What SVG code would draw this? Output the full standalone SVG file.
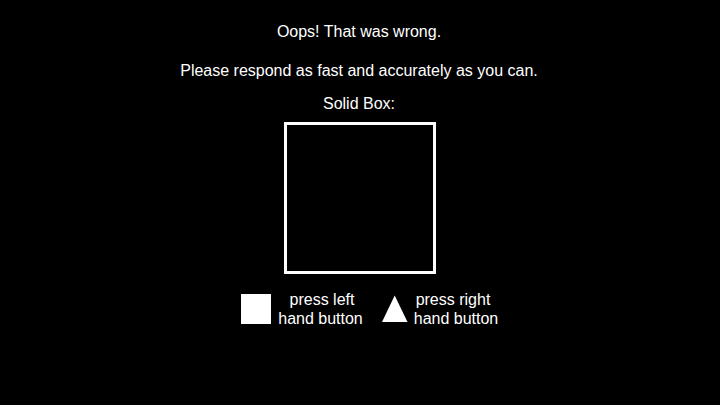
<svg xmlns="http://www.w3.org/2000/svg" width="720" height="405" viewBox="0 0 720 405">
<style>
text{font-family:"Liberation Sans",Arial,sans-serif;font-size:16px;fill:#fff;text-anchor:middle}
</style>
<rect x="0" y="0" width="720" height="405" fill="#000"/>
<g id="header">
<text x="359" y="37">Oops! That was wrong.</text>
<text x="359" y="76">Please respond as fast and accurately as you can.</text>
<text x="359" y="109">Solid Box:</text>
</g>
<g id="stimulus">
<rect x="285.5" y="123.5" width="149" height="149" fill="none" stroke="#fff" stroke-width="3"/>
</g>
<g id="left-key">
<rect x="241" y="294" width="30" height="30" fill="#fff"/>
<text x="322" y="305">press left</text>
<text x="320.5" y="324">hand button</text>
</g>
<g id="right-key">
<polygon points="394.7,295.5 382,322 407.5,322" fill="#fff"/>
<text x="453" y="305">press right</text>
<text x="456" y="324">hand button</text>
</g>
<g id="connectors"/>
</svg>
